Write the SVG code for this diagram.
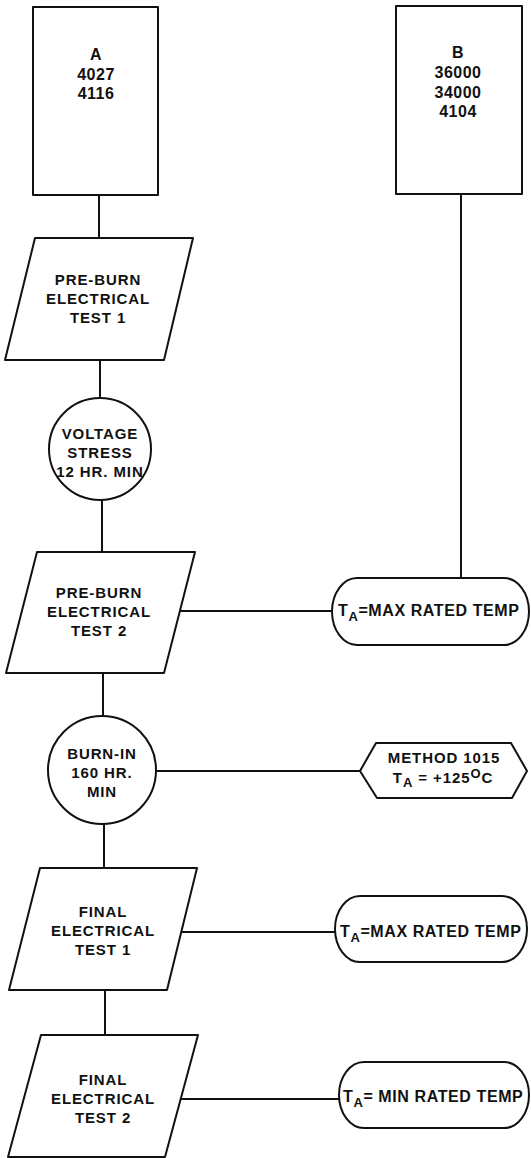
<svg xmlns="http://www.w3.org/2000/svg" width="531" height="1158" viewBox="0 0 531 1158">
<style>
  .s{fill:#fff;stroke:#111;stroke-width:2;stroke-linejoin:round}
  .c{fill:none;stroke:#111;stroke-width:2}
  text{font-family:"Liberation Sans",Arial,sans-serif;font-weight:bold;font-size:15px;fill:#111;text-anchor:middle;letter-spacing:0.9px}
  .b{font-size:16px;letter-spacing:0.5px}
  .p{font-size:16px;letter-spacing:0.6px;text-anchor:start}
  .sub{font-size:13px}
</style>
<rect width="531" height="1158" fill="#fff"/>
<g id="connectors">
  <line class="c" x1="99" y1="195" x2="99" y2="238"/>
  <line class="c" x1="100" y1="360" x2="100" y2="398"/>
  <line class="c" x1="102" y1="500" x2="102" y2="552"/>
  <line class="c" x1="103" y1="673" x2="103" y2="716"/>
  <line class="c" x1="104" y1="824" x2="104" y2="868"/>
  <line class="c" x1="105" y1="990" x2="105" y2="1035"/>
  <line class="c" x1="461" y1="194" x2="461" y2="578"/>
  <line class="c" x1="180" y1="611" x2="332" y2="611"/>
  <line class="c" x1="156" y1="771" x2="360" y2="771"/>
  <line class="c" x1="181" y1="932" x2="335" y2="932"/>
  <line class="c" x1="181" y1="1099" x2="339" y2="1099"/>
</g>
<g id="boxA">
  <rect class="s" x="33" y="7" width="125" height="188"/>
  <text class="b" x="96" y="60">A</text>
  <text class="b" x="96" y="80">4027</text>
  <text class="b" x="96" y="99">4116</text>
</g>
<g id="boxB">
  <rect class="s" x="396" y="6" width="126" height="188"/>
  <text class="b" x="458" y="58">B</text>
  <text class="b" x="458" y="78">36000</text>
  <text class="b" x="458" y="98">34000</text>
  <text class="b" x="458" y="117">4104</text>
</g>
<g id="pre1">
  <polygon class="s" points="35,238 193,238 164,360 5,360"/>
  <text x="98" y="285">PRE-BURN</text>
  <text x="98" y="304">ELECTRICAL</text>
  <text x="98" y="323">TEST 1</text>
</g>
<g id="stress">
  <circle class="s" cx="100" cy="449" r="51"/>
  <text x="100" y="439">VOLTAGE</text>
  <text x="100" y="458">STRESS</text>
  <text x="100" y="477">12 HR. MIN</text>
</g>
<g id="pre2">
  <polygon class="s" points="37,552 195,552 164,673 6,673"/>
  <text x="99" y="598">PRE-BURN</text>
  <text x="99" y="617">ELECTRICAL</text>
  <text x="99" y="636">TEST 2</text>
</g>
<g id="temp1">
  <rect class="s" x="332" y="578" width="197" height="67" rx="25" ry="33.5"/>
  <text class="p" x="338" y="616">T<tspan class="sub" dy="5">A</tspan><tspan dy="-5">=MAX RATED TEMP</tspan></text>
</g>
<g id="burnin">
  <circle class="s" cx="102" cy="770" r="54"/>
  <text x="102" y="759">BURN-IN</text>
  <text x="102" y="778">160 HR.</text>
  <text x="102" y="797">MIN</text>
</g>
<g id="method">
  <polygon class="s" points="360,771 376,743 511,743 527,771 512,798 377,798"/>
  <text x="444" y="763">METHOD 1015</text>
  <text x="443" y="783">T<tspan class="sub" dy="4">A</tspan><tspan dy="-4"> = +125</tspan><tspan class="sub" dy="-5">O</tspan><tspan dy="5">C</tspan></text>
</g>
<g id="final1">
  <polygon class="s" points="40,868 197,868 167,990 9,990"/>
  <text x="103" y="917">FINAL</text>
  <text x="103" y="936">ELECTRICAL</text>
  <text x="103" y="955">TEST 1</text>
</g>
<g id="temp2">
  <rect class="s" x="335" y="896" width="192" height="66" rx="25" ry="33"/>
  <text class="p" x="340" y="937">T<tspan class="sub" dy="5">A</tspan><tspan dy="-5">=MAX RATED TEMP</tspan></text>
</g>
<g id="final2">
  <polygon class="s" points="41,1035 198,1035 165,1157 8,1157"/>
  <text x="103" y="1085">FINAL</text>
  <text x="103" y="1104">ELECTRICAL</text>
  <text x="103" y="1123">TEST 2</text>
</g>
<g id="temp3">
  <rect class="s" x="339" y="1062" width="190" height="66" rx="25" ry="33"/>
  <text class="p" x="343" y="1102">T<tspan class="sub" dy="5">A</tspan><tspan dy="-5">= MIN RATED TEMP</tspan></text>
</g>
</svg>
